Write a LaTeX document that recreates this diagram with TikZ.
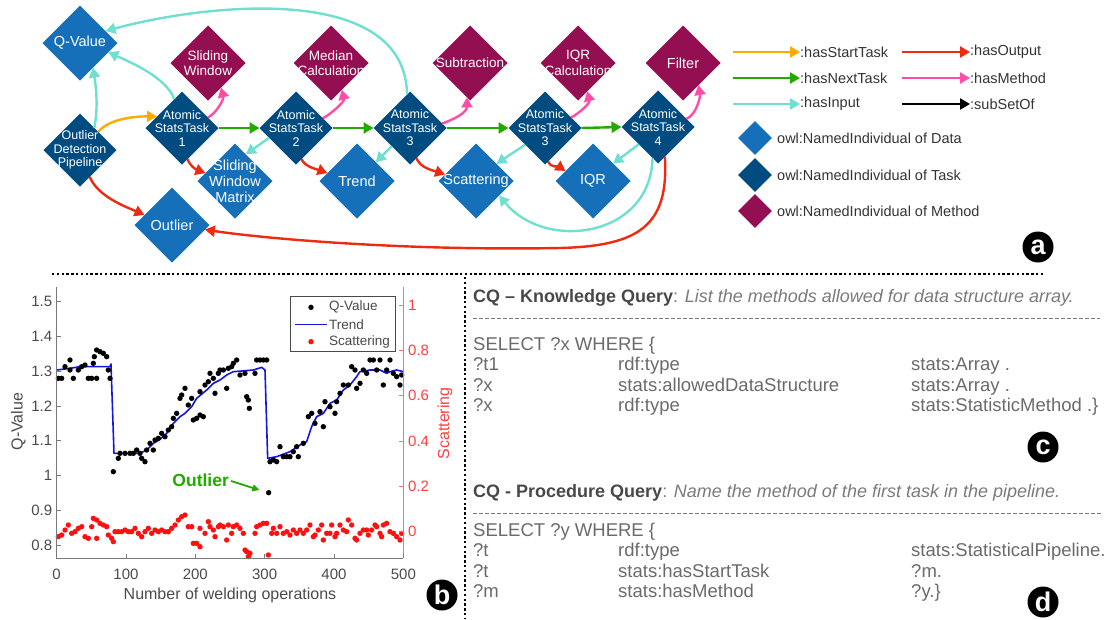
\documentclass[tikz,border=0pt]{standalone}
\usepackage{fontspec}
\setmainfont{Liberation Sans}
\usetikzlibrary{shapes.geometric,arrows.meta}
\definecolor{datab}{HTML}{1570B9}
\definecolor{taskb}{HTML}{004C80}
\definecolor{methc}{HTML}{940F52}
\definecolor{cyanA}{HTML}{6FE0CF}
\definecolor{orangeA}{HTML}{FFAA00}
\definecolor{greenA}{HTML}{22AA00}
\definecolor{redA}{HTML}{EE2A10}
\definecolor{pinkA}{HTML}{FF4DA6}
\definecolor{legtxtc}{HTML}{333333}
\definecolor{axisc}{HTML}{7A7A7A}
\definecolor{plottxt}{HTML}{4A4A4A}
\definecolor{axisred}{HTML}{FF7070}
\definecolor{redtxt}{HTML}{FF4040}
\definecolor{dotred}{HTML}{FF1010}
\definecolor{trendb}{HTML}{1515E0}
\definecolor{qhead}{HTML}{484848}
\definecolor{qital}{HTML}{7A7A7A}
\definecolor{qbody}{HTML}{6A6A6A}
\definecolor{outgreen}{HTML}{22AA00}
\begin{document}
\begin{tikzpicture}[x=1pt,y=-1pt,
  dnode/.style={diamond,aspect=1,minimum width=75pt,minimum height=75pt,inner sep=0pt,outer sep=0pt,fill=datab},
  tnode/.style={diamond,aspect=1,minimum width=73pt,minimum height=73pt,inner sep=0pt,outer sep=0pt,fill=taskb},
  mnode/.style={diamond,aspect=1,minimum width=75pt,minimum height=75pt,inner sep=0pt,outer sep=0pt,fill=methc},
  wlab/.style={text=white,align=center,inner sep=0pt,font=\fontsize{14.5}{16}\selectfont},
  mlab/.style={text=white,align=center,inner sep=0pt,font=\fontsize{13.5}{15.5}\selectfont},
  tlab/.style={text=white,align=center,inner sep=0pt,font=\fontsize{12.5}{13.5}\selectfont},
  arr/.style={line width=2.4pt,-{Triangle[length=10pt,width=11pt]}},
  legtxt/.style={anchor=west,inner sep=0pt,text=legtxtc,font=\fontsize{14.5}{16}\selectfont},
  circlab/.style={circle,fill=black,minimum size=31pt,inner sep=0pt,text=white,font=\bfseries\fontsize{27}{27}\selectfont},
  ticklab/.style={inner sep=0pt,text=plottxt,font=\fontsize{15}{15}\selectfont},
  qtxt/.style={anchor=base west,inner sep=0pt,text=qbody,font=\fontsize{18.5}{21}\selectfont},
  qhd/.style={anchor=base west,inner sep=0pt,text=qital,font=\fontsize{18}{21}\selectfont},
  dotline/.style={line width=2.4pt,dash pattern=on 2.4pt off 2.4pt},
  qdash/.style={line width=0.8pt,draw=qital,dash pattern=on 4pt off 2pt}]
\useasboundingbox (0,0) rectangle (1107,619);

% ---------------- graph (a) ----------------
\node[dnode,label={[wlab,name=qvl]center:Q-Value}] (qv) at (80,43) {};
\node[mnode,label={[mlab,name=swl]center:{Sliding\\Window}}] (sw) at (208,63) {};
\node[mnode,label={[mlab,name=medl]center:{Median\\Calculation}}] (med) at (331,63) {};
\node[mnode,label={[mlab,name=subl]center:Subtraction}] (sub) at (470,63) {};
\node[mnode,label={[mlab,name=iqrcl]center:{IQR\\Calculation}}] (iqrc) at (578,63) {};
\node[mnode,label={[wlab,name=fill]center:Filter}] (fil) at (683,63) {};
\node[tnode,label={[tlab,name=odpl]center:{Outlier\\Detection\\Pipeline}}] (odp) at (80,150) {};
\node[tnode,label={[tlab,name=t1l]center:{Atomic\\StatsTask\\1}}] (t1) at (182,128) {};
\node[tnode,label={[tlab,name=t2l]center:{Atomic\\StatsTask\\2}}] (t2) at (296,128) {};
\node[tnode,label={[tlab,name=t3l]center:{Atomic\\StatsTask\\3}}] (t3) at (410,128) {};
\node[tnode,label={[tlab,name=t3bl]center:{Atomic\\StatsTask\\3}}] (t3b) at (545,128) {};
\node[tnode,label={[tlab,name=t4l]center:{Atomic\\StatsTask\\4}}] (t4) at (658,127) {};
\node[dnode,label={[wlab,name=swml]center:{Sliding\\Window\\Matrix}}] (swm) at (235,181) {};
\node[dnode,label={[wlab,name=trl]center:Trend}] (tr) at (357,181) {};
\node[dnode,label={[wlab,name=scl]center:Scattering}] (sc) at (476,181) {};
\node[dnode,label={[wlab,name=iqrl]center:IQR}] (iqr) at (593,181) {};
\node[dnode,label={[wlab,name=outl]center:Outlier}] (out) at (172,225) {};

\draw[arr,cyanA] (odp.57) .. controls +(4,-22) and +(3,20) .. (qv.-62);
\draw[arr,orangeA] (odp.north east) .. controls +(12,-14) and +(-20,0) .. (t1.155);
\draw[arr,redA] (odp.-70) .. controls +(8,20) and +(-18,-8) .. (out.160);
\draw[arr,cyanA] (t1.105) .. controls +(-8,-22) and +(22,10) .. (qv.-18);
\draw[arr,pinkA] (t1.22) .. controls +(8,-4) and +(3,12) .. (sw.-62);
\draw[arr,greenA] (t1.east) -- (t2.west);
\draw[arr,redA] (t1.-80) .. controls +(3,8) and +(-8,-3) .. (swm.165);
\draw[arr,cyanA] (t2.-160) -- (swm.68);
\draw[arr,pinkA] (t2.20) .. controls +(8,-4) and +(3,12) .. (med.-68);
\draw[arr,greenA] (t2.east) -- (t3.west);
\draw[arr,redA] (t2.-80) .. controls +(3,8) and +(-8,-3) .. (tr.165);
\draw[arr,cyanA] (t3.95) .. controls (405,-20) and (200,5) .. (qv.25);
\draw[arr,pinkA] (t3.8) .. controls +(12,-4) and +(0,15) .. (sub.-95);
\draw[arr,greenA] (t3.east) -- (t3b.west);
\draw[arr,cyanA] (t3.south west) -- (tr.north east);
\draw[arr,redA] (t3.-78) .. controls +(4,10) and +(-12,-4) .. (sc.168);
\draw[arr,cyanA] (t3b.-140) -- (sc.40);
\draw[arr,redA] (t3b.-85) .. controls +(2,6) and +(-6,-4) .. (iqr.160);
\draw[arr,pinkA] (t3b.22) .. controls +(8,-4) and +(3,12) .. (iqrc.-72);
\draw[arr,greenA] (t3b.east) -- (t4.west);
\draw[arr,pinkA] (t4.16) .. controls +(10,-4) and +(2,12) .. (fil.-55);
\draw[arr,cyanA] (t4.-138) -- (iqr.41);
\draw[arr,cyanA] (t4.-100) .. controls +(-2,80) and +(46,56) .. (sc.-32);
\draw[arr,redA] (t4.-77) .. controls (669,225) and (640,246) .. (560,248) .. controls (400,251) and (260,238) .. (out.-8);

% legend
\coordinate (ls1) at (733,52); \node[legtxt] (lt1) at (800,52) {:hasStartTask};
\coordinate (ls2) at (733,78); \node[legtxt] (lt2) at (800,78) {:hasNextTask};
\coordinate (ls3) at (733,104); \node[legtxt] (lt3) at (800,104) {:hasInput};
\coordinate (ls4) at (902,52); \node[legtxt] (lt4) at (970,52) {:hasOutput};
\coordinate (ls5) at (902,78); \node[legtxt] (lt5) at (970,78) {:hasMethod};
\coordinate (ls6) at (902,104); \node[legtxt] (lt6) at (970,104) {:subSetOf};
\draw[arr,orangeA] (ls1) -- (lt1.west);
\draw[arr,greenA] (ls2) -- (lt2.west);
\draw[arr,cyanA] (ls3) -- (lt3.west);
\draw[arr,redA] (ls4) -- (lt4.west);
\draw[arr,pinkA] (ls5) -- (lt5.west);
\draw[arr,black] (ls6) -- (lt6.west);
\node[diamond,aspect=1,minimum width=34pt,minimum height=34pt,inner sep=0pt,fill=datab] (ld1) at (755,138) {};
\node[diamond,aspect=1,minimum width=34pt,minimum height=34pt,inner sep=0pt,fill=taskb] (ld2) at (755,175) {};
\node[diamond,aspect=1,minimum width=34pt,minimum height=34pt,inner sep=0pt,fill=methc] (ld3) at (755,211) {};
\node[legtxt] (ldt1) at (777,138) {owl:NamedIndividual of Data};
\node[legtxt] (ldt2) at (777,175) {owl:NamedIndividual of Task};
\node[legtxt] (ldt3) at (777,211) {owl:NamedIndividual of Method};
\node[circlab] (ca) at (1038,247) {a};

% separators
\draw[dotline] (52,274) -- (1045,274);
\draw[dotline] (465,277) -- (465,619);

% ---------------- plot (b) ----------------
\begin{scope}[shift={(0,270)},x=0.33333pt,y=-0.33333pt]
  % trend
  \draw[trendb,line width=1.6pt,line join=round] plot coordinates {(170,300) (210,295) (240,290) (330,290) (333,282) (342,550) (420,550) (440,540) (460,520) (480,508) (500,490) (520,460) (540,440) (555,430) (575,410) (590,385) (620,360) (640,340) (660,330) (680,315) (700,305) (760,300) (785,292) (795,300) (803,565) (830,560) (870,545) (900,525) (920,515) (935,470) (950,440) (970,430) (990,400) (1010,390) (1030,360) (1050,345) (1070,320) (1080,305) (1110,300) (1140,300) (1160,310) (1170,305) (1190,300) (1210,305)};
  % Q-values
  \foreach \px/\py in {175/325,185/325,195/290,210/300,210/270,220/325,235/300,245/290,255/285,265/325,275/325,280/280,283/260,290/325,290/240,300/245,310/250,320/260,325/300,330/325,340/605,355/565,360/550,375/550,390/550,400/550,410/540,420/550,425/565,435/575,440/540,450/520,460/540,465/510,475/505,485/490,495/500,505/480,515/470,520/445,530/430,540/385,545/375,555/355,565/405,575/385,580/450,590/445,600/435,610/440,600/365,615/345,625/335,630/310,640/325,645/370,655/310,660/300,670/300,680/355,685/295,695/290,700/280,710/270,720/315,735/310,740/380,745/390,748/415,765/310,770/270,780/270,790/270,800/270,806/668,810/575,820/570,830/575,840/530,850/560,860/560,870/560,880/545,890/530,895/560,910/520,925/440,935/430,945/460,960/425,970/470,975/395,990/410,1005/430,1010/395,1020/370,1030/345,1045/345,1055/290,1065/300,1070/355,1080/340,1090/300,1100/310,1110/270,1120/270,1130/300,1140/270,1150/345,1160/300,1170/270,1180/310,1190/320,1200/345,1205/315}
    \fill[black] (\px,\py) circle (2.7pt);
  % scattering
  \foreach \px/\py in {175/800,185/795,195/780,205/765,215/790,225/785,235/775,245/770,255/800,265/805,275/770,280/745,290/750,290/805,300/760,310/765,320/770,325/795,335/805,340/815,345/785,355/785,365/785,375/780,385/785,395/785,405/775,415/790,425/800,435/785,445/775,455/790,465/780,475/785,485/780,495/785,505/785,515/775,525/765,535/750,545/740,555/735,565/770,575/770,580/820,590/820,600/830,600/775,615/790,625/755,630/770,640/780,645/800,655/770,660/765,670/770,680/810,685/765,695/790,700/770,710/765,720/775,730/790,735/840,740/845,745/860,750/850,765/790,770/770,780/765,790/760,800/760,805/855,815/790,820/775,830/790,840/770,850/790,860/785,870/795,880/780,890/790,900/780,910/790,920/780,930/765,940/800,945/795,955/780,965/765,970/810,980/790,990/790,995/765,1005/800,1010/790,1020/765,1030/780,1040/785,1045/750,1055/765,1065/805,1070/810,1080/790,1090/780,1100/780,1105/795,1115/780,1125/765,1130/770,1140/790,1145/800,1150/765,1160/760,1170/785,1180/790,1190/800,1200/810,1205/790}
    \fill[dotred] (\px,\py) circle (2.7pt);
  % axes
  \draw[axisc,line width=0.9pt] (170,50) -- (170,865) -- (1210,865);
  \draw[axisred,line width=0.9pt] (1210,50) -- (1210,865);
  \foreach \v [count=\k from 0] in {1.5,1.4,1.3,1.2,1.1,1,0.9,0.8} {
    \draw[axisc,line width=0.9pt] (170,{95+104.3*\k}) -- ++(12,0);
    \node[ticklab,anchor=east] (yt\k) at (157,{95+104.3*\k}) {\v};
  }
  \foreach \v [count=\k from 0] in {0,100,200,300,400,500} {
    \draw[axisc,line width=0.9pt] ({170+208*\k},865) -- ++(0,-12);
    \node[ticklab] (xt\k) at ({170+208*\k},912) {\v};
  }
  \foreach \v [count=\k from 0] in {0,0.2,0.4,0.6,0.8,1} {
    \draw[axisred,line width=0.9pt] (1210,{785-136*\k}) -- ++(-12,0);
    \node[ticklab,anchor=west,text=redtxt] (rt\k) at (1224,{785-136*\k}) {\v};
  }
  \node[ticklab,font=\fontsize{16}{16}\selectfont] (xlab) at (690,975) {Number of welding operations};
  \node[ticklab,rotate=90,font=\fontsize{16}{16}\selectfont] (ylab) at (55,455) {Q-Value};
  \node[ticklab,rotate=90,text=redtxt,font=\fontsize{16}{16}\selectfont] (rlab) at (1335,460) {Scattering};
  % legend
  \draw[fill=white,draw=plottxt,line width=0.8pt] (872,80) rectangle (1185,245);
  \fill[black] (933,112) circle (2.7pt);
  \draw[trendb,line width=1.6pt] (885,163) -- (980,163);
  \fill[dotred] (933,215) circle (2.7pt);
  \node[ticklab,anchor=west,font=\fontsize{13.5}{14}\selectfont] (pl1) at (987,112) {Q-Value};
  \node[ticklab,anchor=west,font=\fontsize{13.5}{14}\selectfont] (pl2) at (987,163) {Trend};
  \node[ticklab,anchor=west,font=\fontsize{13.5}{14}\selectfont] (pl3) at (987,215) {Scattering};
  % outlier annotation
  \node[inner sep=0pt,text=outgreen,font=\bfseries\fontsize{17.5}{18}\selectfont] (olab) at (602,630) {Outlier};
  \coordinate (otip) at (778,660);
  \draw[outgreen,line width=1.8pt,-{Triangle[length=7pt,width=7pt]}] (olab.east) ++(6,3) -- (otip);
\end{scope}
\node[circlab] (cb) at (442,595) {b};

% ---------------- queries (c), (d) ----------------
\node[qhd] (q1h) at (473,302) {{\bfseries\color{qhead}CQ – Knowledge Query}: \itshape List the methods allowed for data structure array.};
\draw[qdash] (473,318) -- (1100,318);
\node[qtxt] (q1s) at (473,350) {SELECT ?x WHERE \{};
\node[qtxt] (q1a1) at (473,370.5) {?t1};
\node[qtxt] (q1a2) at (618,370.5) {rdf:type};
\node[qtxt] (q1a3) at (911,370.5) {stats:Array .};
\node[qtxt] (q1b1) at (473,391) {?x};
\node[qtxt] (q1b2) at (618,391) {stats:allowedDataStructure};
\node[qtxt] (q1b3) at (911,391) {stats:Array .};
\node[qtxt] (q1c1) at (473,411.5) {?x};
\node[qtxt] (q1c2) at (618,411.5) {rdf:type};
\node[qtxt] (q1c3) at (911,411.5) {stats:StatisticMethod .\}};
\node[circlab] (cc) at (1043,447) {c};

\node[qhd] (q2h) at (473,497) {{\bfseries\color{qhead}CQ - Procedure Query}: \itshape Name the method of the first task in the pipeline.};
\draw[qdash] (473,513) -- (1102,513);
\node[qtxt] (q2s) at (473,536) {SELECT ?y WHERE \{};
\node[qtxt] (q2a1) at (473,556.5) {?t};
\node[qtxt] (q2a2) at (618,556.5) {rdf:type};
\node[qtxt] (q2a3) at (911,556.5) {stats:StatisticalPipeline.};
\node[qtxt] (q2b1) at (473,577) {?t};
\node[qtxt] (q2b2) at (618,577) {stats:hasStartTask};
\node[qtxt] (q2b3) at (911,577) {?m.};
\node[qtxt] (q2c1) at (473,597.5) {?m};
\node[qtxt] (q2c2) at (618,597.5) {stats:hasMethod};
\node[qtxt] (q2c3) at (911,597.5) {?y.\}};
\node[circlab] (cd) at (1043,602) {d};
\end{tikzpicture}
\end{document}
